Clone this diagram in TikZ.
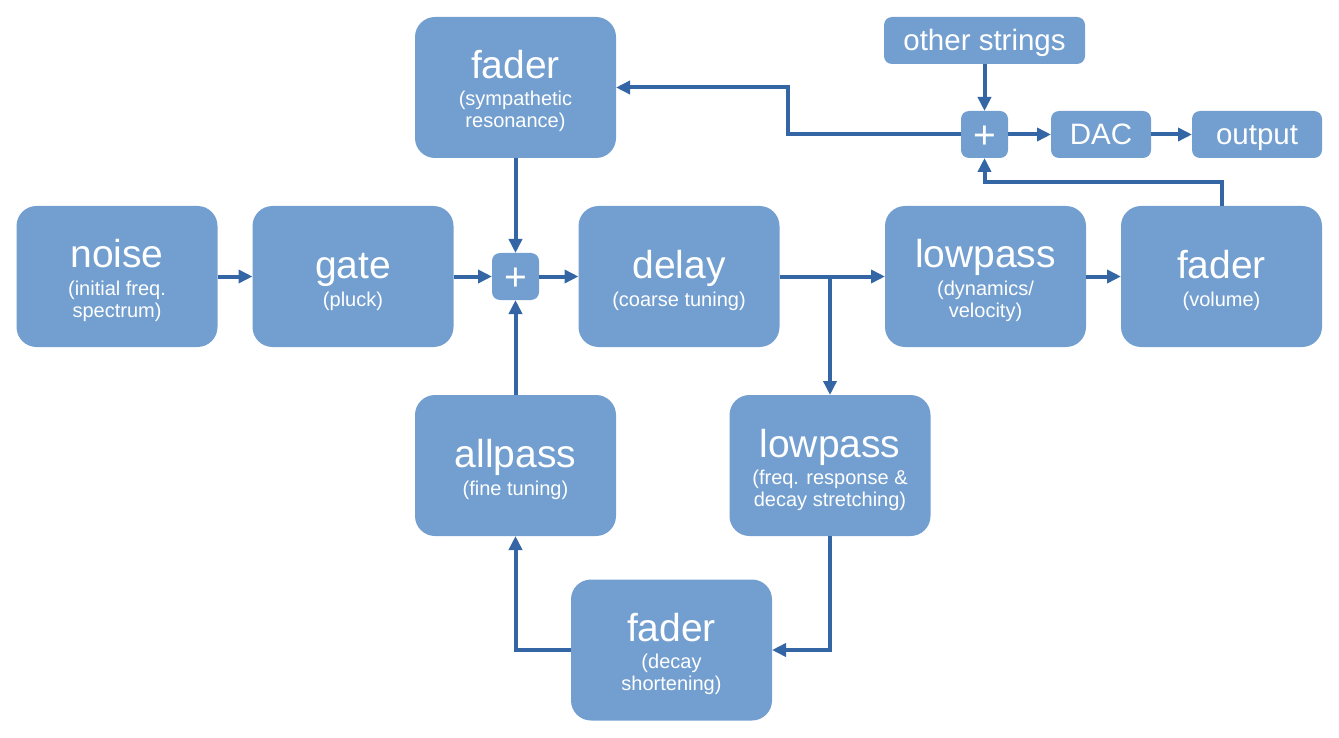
\documentclass[tikz,border=0pt]{standalone}
\usepackage{fontspec}
\setmainfont{Liberation Sans}
\usetikzlibrary{arrows.meta}
\definecolor{boxfill}{HTML}{729FCF}
\definecolor{arrcol}{HTML}{3465A4}
\newcommand{\mainf}{\fontsize{39}{44}\selectfont}
\newcommand{\subf}{\fontsize{20}{22}\selectfont}
\newcommand{\midf}{\fontsize{29.5}{33}\selectfont}
\tikzset{
  bigbox/.style={draw=none, fill=boxfill, rounded corners=20pt, minimum width=201pt, minimum height=141pt, inner sep=0pt, outer sep=0pt},
  smallbox/.style={draw=none, fill=boxfill, rounded corners=8pt, minimum height=47pt, inner sep=0pt, outer sep=0pt},
  maintxt/.style={text=white, font=\mainf, anchor=base, inner sep=0pt},
  subtxt/.style={text=white, font=\subf, anchor=base, inner sep=0pt},
  midtxt/.style={text=white, font=\midf, anchor=base, inner sep=0pt},
  arr/.style={draw=arrcol, line width=4pt, -{Triangle[length=14pt,width=13pt]}},
  plainline/.style={draw=arrcol, line width=4pt}
}
\begin{document}
\begin{tikzpicture}[x=1pt,y=-1pt]
\useasboundingbox (0,0) rectangle (1339,738);
% big boxes
\node[bigbox] (fadertop) at (515.5,87.5) {};
\node[bigbox] (noise) at (117,276.5) {};
\node[bigbox] (gate) at (353,276.5) {};
\node[bigbox] (delay) at (679,276.5) {};
\node[bigbox] (lpdyn) at (985.5,276.5) {};
\node[bigbox] (fvol) at (1221.5,276.5) {};
\node[bigbox] (allpass) at (515.5,465.5) {};
\node[bigbox] (lpf) at (830,465.5) {};
\node[bigbox] (fdecay) at (671.5,650) {};
% small boxes
\node[smallbox, minimum width=47pt] (plusmid) at (515.5,276.5) {};
\node[smallbox, minimum width=47pt] (plustop) at (984.5,134.5) {};
\node[smallbox, minimum width=201pt] (other) at (984.5,40.5) {};
\node[smallbox, minimum width=100pt] (dac) at (1101,134.5) {};
\node[smallbox, minimum width=130pt] (output) at (1257,134.5) {};
% texts
\node[maintxt] (t1) at (515.5,79) {fader};
\node[subtxt] (t1a) at (515.5,106) {(sympathetic};
\node[subtxt] (t1b) at (515.5,128) {resonance)};
\node[maintxt] (t2) at (117,268) {noise};
\node[subtxt] (t2a) at (117,295) {(initial freq.};
\node[subtxt] (t2b) at (117,317) {spectrum)};
\node[maintxt] (t3) at (353,278) {gate};
\node[subtxt] (t3a) at (353,306) {(pluck)};
\node[maintxt] (t4) at (679,278) {delay};
\node[subtxt] (t4a) at (679,306) {(coarse tuning)};
\node[maintxt] (t5) at (985.5,268) {lowpass};
\node[subtxt] (t5a) at (985.5,295) {(dynamics/};
\node[subtxt] (t5b) at (985.5,317) {velocity)};
\node[maintxt] (t6) at (1221.5,278) {fader};
\node[subtxt] (t6a) at (1221.5,306) {(volume)};
\node[maintxt] (t7) at (515.5,467) {allpass};
\node[subtxt] (t7a) at (515.5,495) {(fine tuning)};
\node[maintxt] (t8) at (830,457) {lowpass};
\node[subtxt] (t8a) at (830,484) {(freq. response \&};
\node[subtxt] (t8b) at (830,506) {decay stretching)};
\node[maintxt] (t9) at (671.5,641.5) {fader};
\node[subtxt] (t9a) at (671.5,668.5) {(decay};
\node[subtxt] (t9b) at (671.5,690.5) {shortening)};
\node[maintxt] (p1) at (515.5,290.5) {+};
\node[maintxt] (p2) at (984.5,148.5) {+};
\node[midtxt] (t10) at (984.5,51) {other strings};
\node[midtxt] (t11) at (1101,145) {DAC};
\node[midtxt] (t12) at (1257,145) {output};
% junction coordinates
\coordinate (br) at (830,276.5);
\coordinate (vj) at (1221.5,182);
\coordinate (sj) at (788,134.5);
% connectors
\draw[arr] (noise.east) -- (gate.west);
\draw[arr] (gate.east) -- (plusmid.west);
\draw[arr] (plusmid.east) -- (delay.west);
\draw[arr] (fadertop.south) -- (plusmid.north);
\draw[arr] (allpass.north) -- (plusmid.south);
\draw[arr] (delay.east) -- (lpdyn.west);
\draw[arr] (br) -- (lpf.north);
\draw[arr] (lpdyn.east) -- (fvol.west);
\draw[arr] (fvol.north) -- (vj) -| (plustop.south);
\draw[arr] (other.south) -- (plustop.north);
\draw[arr] (plustop.east) -- (dac.west);
\draw[arr] (dac.east) -- (output.west);
\draw[arr] (plustop.west) -- (sj) |- (fadertop.east);
\draw[arr] (lpf.south) |- (fdecay.east);
\draw[arr] (fdecay.west) -| (allpass.south);
\end{tikzpicture}
\end{document}
